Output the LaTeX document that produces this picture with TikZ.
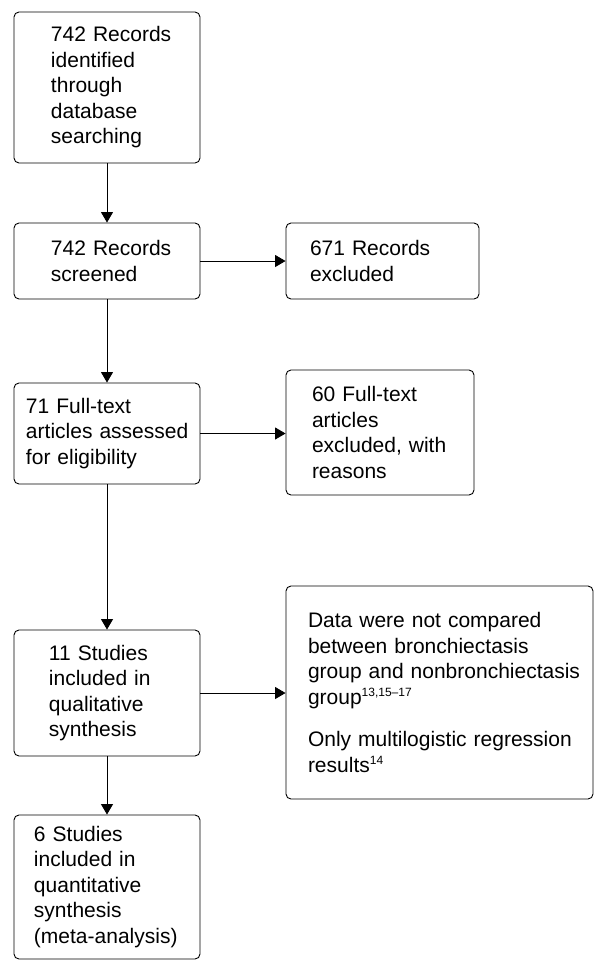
\documentclass[tikz,border=0pt]{standalone}
\usepackage{fontspec}
\setmainfont{Liberation Sans}
\usetikzlibrary{arrows.meta}
\newcommand{\refsup}[1]{\textsuperscript{\fontsize{12bp}{12bp}\selectfont #1}}

\begin{document}
\begin{tikzpicture}[x=1bp,y=-1bp,
  box/.style={draw,rounded corners=5bp,line width=0.9bp,inner sep=0pt,
    align=left,font=\fontsize{21bp}{25.5bp}\selectfont},
  textin/.style={execute at begin node={\leftskip=#1\relax}},
  arr/.style={line width=0.9bp,-{Triangle[length=10.5bp,width=12bp]}}]
\useasboundingbox (0,0) rectangle (595,961);

\node[box,textin=37bp,text width=186bp,minimum height=151bp] (ident) at (107,87.5)
  {742 Records\\identified\\through\\database\\searching};
\node[box,textin=37bp,text width=186bp,minimum height=76bp] (screen) at (107,261)
  {742 Records\\screened};
\node[box,textin=24bp,text width=193bp,minimum height=76bp] (recex) at (382.5,261)
  {671 Records\\excluded};
\node[box,textin=12bp,text width=186bp,minimum height=101bp] (elig) at (107,433.5)
  {71 Full-text\\articles assessed\\for eligibility};
\node[box,textin=26bp,text width=188bp,minimum height=125bp] (artex) at (380,432.5)
  {60 Full-text\\articles\\excluded, with\\reasons};
\node[box,textin=35bp,text width=186bp,minimum height=126bp] (qual) at (107,693)
  {11 Studies\\included in\\qualitative\\synthesis};
\node[box,textin=22bp,text width=307bp,minimum height=213bp] (why) at (439.5,692.5)
  {Data were not compared\\between bronchiectasis\\group and nonbronchiectasis\\group\refsup{13,15--17}\\[17bp]
   Only multilogistic regression\\results\refsup{14}};
\node[box,textin=20bp,text width=186bp,minimum height=144bp] (quant) at (107,887)
  {6 Studies\\included in\\quantitative\\synthesis\\(meta-analysis)};

\draw[arr] (ident) -- (screen);
\draw[arr] (screen) -- (elig);
\draw[arr] (elig) -- (qual);
\draw[arr] (qual) -- (quant);

\draw[arr] (screen.east) -- (screen.east -| recex.west);
\draw[arr] (elig.east) -- (elig.east -| artex.west);
\draw[arr] (qual.east) -- (qual.east -| why.west);

\end{tikzpicture}
\end{document}
